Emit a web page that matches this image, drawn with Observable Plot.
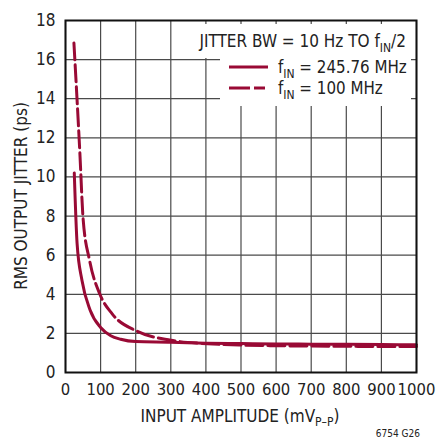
<!DOCTYPE html>
<html>
<head>
<meta charset="utf-8">
<script src="https://cdn.jsdelivr.net/npm/d3@7"></script>
<script src="https://cdn.jsdelivr.net/npm/@observablehq/plot@0.6"></script>
<style>
  html, body { margin: 0; padding: 0; background: #fff; }
</style>
</head>
<body>
<div id="chart"></div>
<script>
// ---- data ----
const xTicks = [0, 100, 200, 300, 400, 500, 600, 700, 800, 900, 1000];
const yTicks = [0, 2, 4, 6, 8, 10, 12, 14, 16, 18];

const amplitude245 = [25, 33, 47, 70, 100, 129, 157, 200, 300, 400, 500, 600, 700, 800, 900, 1000];
const jitter245    = [10.2, 6.6, 4.7, 3.2, 2.3, 1.88, 1.7, 1.58, 1.55, 1.5, 1.48, 1.46, 1.45, 1.44, 1.43, 1.42];

const amplitude100 = [24, 41, 50, 69, 98, 133, 205, 300, 405, 500, 600, 700, 800, 900, 1000];
const jitter100    = [16.85, 11.2, 7.9, 5.7, 4.0, 3.0, 2.1, 1.65, 1.47, 1.4, 1.37, 1.35, 1.34, 1.33, 1.33];

const seriesNames = ["245.76 MHz", "100 MHz"];

// ---- build tables ----
const rows245 = amplitude245.map((a, i) => ({x: a, y: jitter245[i]}));
const rows100 = amplitude100.map((a, i) => ({x: a, y: jitter100[i]}));

const FONT = "'DejaVu Sans Condensed', 'DejaVu Sans', sans-serif";
const RED = "#990a35";

const plot = Plot.plot({
  width: 436,
  height: 439,
  marginLeft: 65,
  marginRight: 20,
  marginTop: 20,
  marginBottom: 67,
  style: {fontFamily: FONT, fontSize: "17px", color: "#222", background: "#fff", fontStretch: "condensed"},
  x: {domain: [0, 1000], label: null},
  y: {domain: [0, 18], label: null},
  marks: [
    Plot.gridX(xTicks, {stroke: "#4a4a4a", strokeOpacity: 1, strokeWidth: 1.2}),
    Plot.gridY(yTicks, {stroke: "#4a4a4a", strokeOpacity: 1, strokeWidth: 1.2}),
    Plot.line(rows100, {x: "x", y: "y", stroke: RED, strokeWidth: 3, strokeDasharray: "17,5", curve: "monotone-x"}),
    Plot.line(rows245, {x: "x", y: "y", stroke: RED, strokeWidth: 3, curve: "monotone-x"}),
    Plot.frame({stroke: "#111", strokeWidth: 2}),
    Plot.axisX(xTicks, {tickSize: 0, tickPadding: 11, fontSize: 16.5, fill: "#222", tickFormat: d => String(d)}),
    Plot.axisY(yTicks, {tickSize: 0, tickPadding: 10, fontSize: 17, fill: "#222", tickFormat: d => String(d)})
  ]
});

document.getElementById("chart").appendChild(plot);

// ---- annotations (text, legend) ----
const svg = d3.select(plot);
const g = svg.append("g").attr("font-family", FONT).attr("fill", "#222").attr("text-anchor", "start");

// legend background boxes covering the grid
g.append("rect").attr("x", 198).attr("y", 24).attr("width", 213).attr("height", 34).attr("fill", "#fff");
g.append("rect").attr("x", 220).attr("y", 57).attr("width", 191).attr("height", 49).attr("fill", "#fff");

// header line
const t0 = g.append("text").attr("x", 406).attr("y", 47).attr("text-anchor", "end").attr("font-size", 17);
t0.append("tspan").text("JITTER BW = 10 Hz TO f");
t0.append("tspan").attr("font-size", 12).attr("dy", 5).text("IN");
t0.append("tspan").attr("dy", -5).text("/2");

// legend entries
const legendY = [67, 88];
const dashes = [null, "21,4,11"];
seriesNames.forEach((name, i) => {
  g.append("line")
    .attr("x1", 229).attr("x2", 268)
    .attr("y1", legendY[i]).attr("y2", legendY[i])
    .attr("stroke", RED).attr("stroke-width", 3)
    .attr("stroke-dasharray", dashes[i]);
  const t = g.append("text").attr("x", 278).attr("y", legendY[i] + 6)
    .attr("text-anchor", "start").attr("font-size", 16.8);
  t.append("tspan").text("f");
  t.append("tspan").attr("font-size", 12).attr("dy", 5).text("IN");
  t.append("tspan").attr("dy", -5).text(" = " + name);
});

// x axis label
const xl = g.append("text").attr("x", 240).attr("y", 422).attr("text-anchor", "middle").attr("font-size", 17);
xl.append("tspan").text("INPUT AMPLITUDE (mV");
xl.append("tspan").attr("font-size", 12).attr("dy", 4).text("P\u2013P");
xl.append("tspan").attr("dy", -4).text(")");

// y axis label
g.append("text")
  .attr("transform", "translate(27,196) rotate(-90)")
  .attr("text-anchor", "middle")
  .attr("font-size", 17)
  .text("RMS OUTPUT JITTER (ps)");

// figure code
g.append("text").attr("x", 420).attr("y", 437).attr("text-anchor", "end").attr("font-size", 10).text("6754 G26");
</script>
</body>
</html>
